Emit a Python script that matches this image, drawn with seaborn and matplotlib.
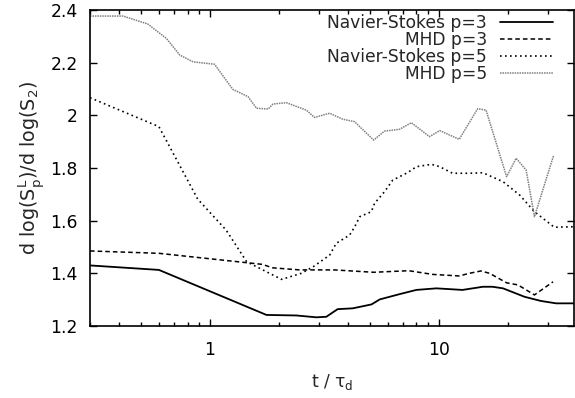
import numpy as np
import pandas as pd
import seaborn as sns
import matplotlib
matplotlib.use("Agg")
import matplotlib.pyplot as plt
from matplotlib.ticker import FixedLocator, NullFormatter, NullLocator

# ---- data ----
ns3_t = [0.3, 0.6, 1.77, 2.39, 2.92, 3.23, 3.62, 4.21, 5.09, 5.53, 6.75, 7.99, 9.77,
         12.7, 15.6, 17.2, 19.1, 23.7, 28.0, 32.6, 39.0]
ns3_y = [1.43, 1.413, 1.242, 1.24, 1.233, 1.235, 1.264, 1.267, 1.282, 1.301, 1.321, 1.337, 1.343,
         1.337, 1.349, 1.349, 1.343, 1.311, 1.295, 1.286, 1.286]

mhd3_t = [0.3, 0.6, 1.7, 1.88, 2.47, 3.5, 5.2, 7.4, 9.4, 12.3, 13.6, 15.3, 16.7, 19.8,
          22.2, 26.2, 31.6]
mhd3_y = [1.485, 1.476, 1.434, 1.421, 1.413, 1.413, 1.404, 1.41, 1.396, 1.39, 1.40, 1.409, 1.40, 1.364,
          1.356, 1.318, 1.368]

ns5_t = [0.3, 0.6, 0.886, 1.18, 1.45, 2.06, 2.51, 2.83, 3.34, 3.57, 4.08, 4.3, 4.52, 5.08,
         5.25, 5.8, 6.3, 7.3, 8.0, 9.3, 10.1, 11.5, 13.6, 15.6, 19.1, 22.6, 26.2, 32.0, 39.0]
ns5_y = [2.067, 1.957, 1.682, 1.564, 1.444, 1.377, 1.40, 1.425, 1.469, 1.514, 1.545, 1.577, 1.615, 1.634,
         1.666, 1.71, 1.754, 1.782, 1.805, 1.814, 1.805, 1.78, 1.78, 1.782, 1.748, 1.697, 1.634, 1.575, 1.577]

mhd5_t = [0.3, 0.418, 0.536, 0.647, 0.74, 0.846, 1.05, 1.26, 1.47, 1.6, 1.8, 1.89, 2.16, 2.64,
          2.87, 3.34, 3.82, 4.29, 5.2, 5.8, 6.75, 7.6, 9.12, 10.1, 12.3, 14.8, 16.1, 19.8,
          21.8, 24.1, 26.2, 31.8]
mhd5_y = [2.377, 2.377, 2.347, 2.292, 2.229, 2.203, 2.194, 2.099, 2.071, 2.027, 2.024, 2.043, 2.048, 2.02,
          1.992, 2.008, 1.985, 1.976, 1.906, 1.94, 1.947, 1.972, 1.919, 1.942, 1.909, 2.025, 2.02, 1.767,
          1.837, 1.792, 1.615, 1.849]

labels = ["Navier-Stokes p=3", "MHD p=3", "Navier-Stokes p=5", "MHD p=5"]
yticks = [1.2, 1.4, 1.6, 1.8, 2.0, 2.2, 2.4]
ytick_labels = ["1.2", "1.4", "1.6", "1.8", "2", "2.2", "2.4"]
xticks = [1, 10]
xtick_labels = ["1", "10"]

# ---- style ----
sns.set_theme(style="ticks")
plt.rcParams["font.family"] = ["DejaVu Sans"]
plt.rcParams["mathtext.fontset"] = "dejavusans"
plt.rcParams["mathtext.default"] = "regular"
FS = 12.3

fig = plt.figure(figsize=(5.75, 3.98), dpi=100)
ax = fig.add_axes([90 / 575, 1 - 326 / 398, (574 - 90) / 575, (326 - 10) / 398])

series = [
    (ns3_t, ns3_y, dict(color="black", linestyle="-", linewidth=1.3)),
    (mhd3_t, mhd3_y, dict(color="black", linestyle=(0, (3, 2)), linewidth=1.1)),
    (ns5_t, ns5_y, dict(color="black", linestyle=(0, (1, 2)), linewidth=1.2)),
    (mhd5_t, mhd5_y, dict(color="#808080", linestyle=(0, (1, 0.6)), linewidth=1.1)),
]
for (t, y, kw), lab in zip(series, labels):
    sns.lineplot(x=np.array(t), y=np.array(y), ax=ax, label=lab, estimator=None, sort=False, **kw)

ax.set_xscale("log")
ax.set_xlim(0.3, 39)
ax.set_ylim(1.2, 2.4)

ax.xaxis.set_major_locator(FixedLocator(xticks))
ax.set_xticklabels(xtick_labels)
minor = [v * d for d in (0.1, 1, 10) for v in range(2, 10)]
ax.xaxis.set_minor_locator(FixedLocator([m for m in minor if 0.3 <= m <= 39]))
ax.xaxis.set_minor_formatter(NullFormatter())
ax.yaxis.set_major_locator(FixedLocator(yticks))
ax.set_yticklabels(ytick_labels)
ax.yaxis.set_minor_locator(NullLocator())

ax.tick_params(which="both", direction="in", top=True, right=True, colors="black",
               labelsize=FS, width=1.0)
ax.tick_params(which="major", length=5)
ax.tick_params(which="minor", length=3)
ax.tick_params(axis="x", which="major", pad=11)
ax.tick_params(axis="y", which="major", pad=9)
for s in ax.spines.values():
    s.set_visible(True)
    s.set_color("black")
    s.set_linewidth(1.2)

ax.set_xlabel("t / τ$_\\mathrm{d}$", fontsize=FS, labelpad=9)
ax.set_ylabel("d log(S$_\\mathrm{p}^\\mathrm{L}$)/d log(S$_\\mathrm{2}$)", fontsize=13.8, labelpad=2)

leg = ax.legend(loc="upper right", bbox_to_anchor=((553 - 90) / 484, (326 - 14) / 316),
                markerfirst=False, frameon=False, fontsize=FS,
                handlelength=3.1, handletextpad=0.75, labelspacing=-0.06,
                borderaxespad=0.0, borderpad=0.0)

fig.savefig("out.png", dpi=100)
